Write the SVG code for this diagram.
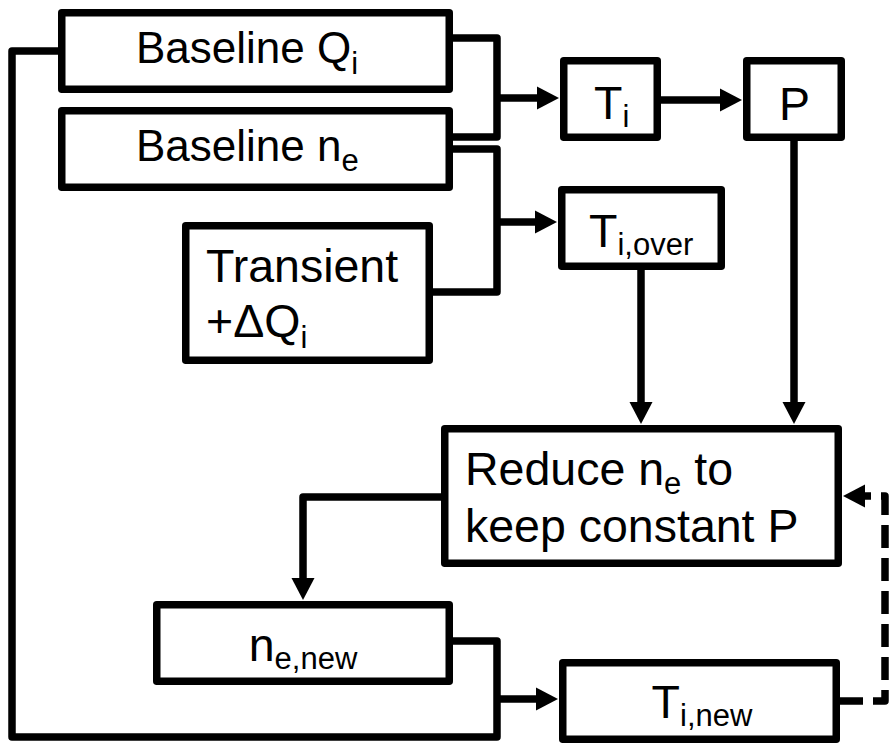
<svg xmlns="http://www.w3.org/2000/svg" width="889" height="743" viewBox="0 0 889 743">
<style>
.box{fill:#fff;stroke:#000;stroke-width:7.5;stroke-linejoin:round}
.ln{fill:none;stroke:#000;stroke-width:7.5;stroke-linejoin:round}
.dash{stroke-dasharray:23 10}
text{font-family:"Liberation Sans",Arial,sans-serif;font-size:46.5px;fill:#000}
.sm{font-size:44px}
.sub{font-size:31px}
</style>
<defs>
<marker id="ah" viewBox="0 -12 22 24" refX="1" refY="0" markerWidth="22" markerHeight="24" markerUnits="userSpaceOnUse" orient="auto">
<path d="M0,-11.5 L22,0 L0,11.5 z" fill="#000"/>
</marker>
</defs>
<g id="connectors">
<path class="ln" d="M449,38 H497 V137 H449"/>
<path class="ln" d="M449,149 H497 V292 H429"/>
<path class="ln" d="M497,98 H538" marker-end="url(#ah)"/>
<path class="ln" d="M497,222 H536" marker-end="url(#ah)"/>
<path class="ln" d="M661,100 H721" marker-end="url(#ah)"/>
<path class="ln" d="M794,141 V403" marker-end="url(#ah)"/>
<path class="ln" d="M641,270 V403" marker-end="url(#ah)"/>
<path class="ln" d="M441,497 H303 V579" marker-end="url(#ah)"/>
<path class="ln" d="M449,641 H497 V737 H12 V51 H58"/>
<path class="ln" d="M497,699 H537" marker-end="url(#ah)"/>
<path class="ln dash" d="M840,701 H885 V496 H864" marker-end="url(#ah)"/>
</g>
<g id="baseline-qi">
<rect class="box" x="61.75" y="12.75" width="387.5" height="76.5"/>
<text class="sm" x="136" y="63">Baseline Q<tspan class="sub" dy="11">i</tspan></text>
</g>
<g id="baseline-ne">
<rect class="box" x="61.75" y="110.75" width="387.5" height="76.5"/>
<text class="sm" x="136" y="161">Baseline n<tspan class="sub" dy="10">e</tspan></text>
</g>
<g id="transient">
<rect class="box" x="185.75" y="225.75" width="243.5" height="134.5"/>
<text x="206" y="282">Transient</text>
<text x="206" y="337">+ΔQ<tspan class="sub" dy="11">i</tspan></text>
</g>
<g id="ti">
<rect class="box" x="563.75" y="60.75" width="93.5" height="76.5"/>
<text x="594" y="119">T<tspan class="sub" dy="8">i</tspan></text>
</g>
<g id="p">
<rect class="box" x="746.75" y="60.75" width="94.5" height="76.5"/>
<text x="779" y="120">P</text>
</g>
<g id="ti-over">
<rect class="box" x="561.75" y="189.75" width="159.5" height="76.5"/>
<text x="589" y="247">T<tspan class="sub" dy="8">i,over</tspan></text>
</g>
<g id="reduce">
<rect class="box" x="444.75" y="428.75" width="393.5" height="134.5"/>
<text x="465" y="485">Reduce n<tspan class="sub" dy="9">e</tspan><tspan dy="-9"> to</tspan></text>
<text x="465" y="542">keep constant P</text>
</g>
<g id="ne-new">
<rect class="box" x="156.75" y="604.75" width="292.5" height="76.5"/>
<text x="303" y="661" text-anchor="middle">n<tspan class="sub" dy="8">e,new</tspan></text>
</g>
<g id="ti-new">
<rect class="box" x="562.75" y="662.75" width="273.5" height="76.5"/>
<text x="702" y="718" text-anchor="middle">T<tspan class="sub" dy="8">i,new</tspan></text>
</g>
</svg>
